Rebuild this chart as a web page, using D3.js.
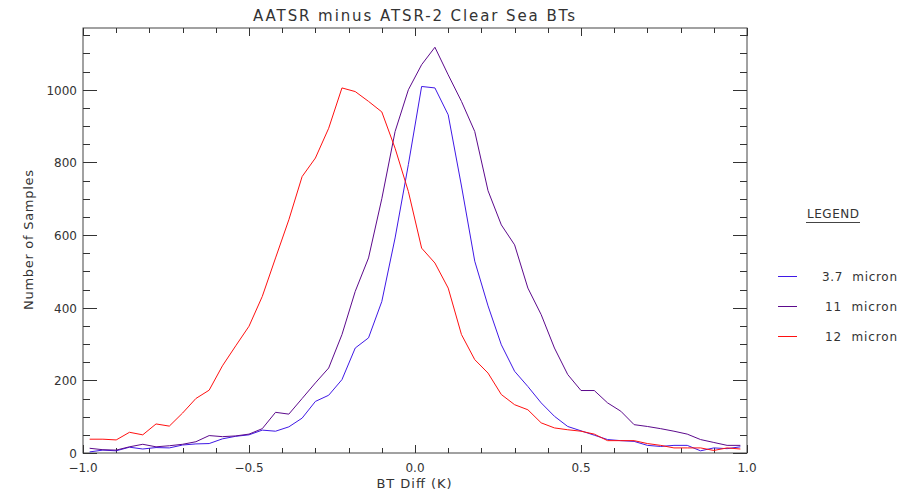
<!DOCTYPE html>
<html>
<head>
<meta charset="utf-8">
<script src="https://cdn.jsdelivr.net/npm/d3@7"></script>
<style>
  body { margin: 0; background: #fff; }
  text { font-family: "DejaVu Sans", sans-serif; fill: #333; white-space: pre; }
</style>
</head>
<body>
<div class="chart"></div>
<script>
// Bin centres (K)
let binCentres = [-0.98, -0.94, -0.90, -0.86, -0.82, -0.78, -0.74, -0.70, -0.66, -0.62,
    -0.58, -0.54, -0.50, -0.46, -0.42, -0.38, -0.34, -0.30, -0.26, -0.22,
    -0.18, -0.14, -0.10, -0.06, -0.02, 0.02, 0.06, 0.10, 0.14, 0.18,
    0.22, 0.26, 0.30, 0.34, 0.38, 0.42, 0.46, 0.50, 0.54, 0.58,
    0.62, 0.66, 0.70, 0.74, 0.78, 0.82, 0.86, 0.90, 0.94, 0.98];

// Sample counts per channel
let micron37 = [3, 8, 6, 16, 11, 15, 14, 22, 25, 26,
    39, 46, 50, 63, 60, 72, 96, 142, 159, 202,
    289, 317, 417, 592, 794, 1009, 1005, 931, 735, 528,
    405, 298, 225, 183, 138, 101, 73, 61, 49, 37,
    34, 32, 21, 18, 21, 21, 6, 14, 12, 17];
let micron11 = [13, 9, 8, 17, 24, 17, 20, 24, 31, 48,
    45, 47, 52, 67, 112, 107, 150, 193, 234, 326,
    445, 537, 700, 885, 1000, 1069, 1117, 1041, 968, 885,
    722, 628, 573, 454, 381, 289, 216, 172, 172, 138,
    115, 78, 73, 67, 60, 52, 37, 29, 21, 21];
let micron12 = [38, 38, 36, 57, 50, 80, 74, 110, 150, 173,
    240, 295, 349, 431, 537, 642, 761, 812, 894, 1005,
    995, 968, 939, 839, 720, 564, 523, 454, 326, 257,
    220, 161, 133, 119, 83, 69, 64, 60, 52, 34,
    34, 34, 26, 21, 14, 14, 14, 7, 14, 11];

let xTickLabels = ['-1.0', '-0.5', '0.0', '0.5', '1.0'];
let yTickValues = [0, 200, 400, 600, 800, 1000];
let seriesNames = ['3.7  micron', '11  micron', '12  micron'];
let seriesColors = ['#3f18e6', '#5c0a8c', '#ff1010'];
let seriesData = [micron37, micron11, micron12];

let svg = d3.select('.chart')
    .append('svg')
    .attr('width', 912)
    .attr('height', 498);

let xScale = d3.scaleLinear().domain([-1, 1]).range([83, 747]);
let yScale = d3.scaleLinear().domain([0, 1170]).range([453, 28]);

// Title and axis labels
svg.append('text')
    .attr('x', 414).attr('y', 21)
    .style('text-anchor', 'middle')
    .style('font-size', '15px')
    .attr('textLength', 322).attr('lengthAdjust', 'spacing')
    .text('AATSR minus ATSR-2 Clear Sea BTs');

svg.append('text')
    .attr('x', 414).attr('y', 488)
    .style('text-anchor', 'middle')
    .style('font-size', '13px')
    .attr('textLength', 75).attr('lengthAdjust', 'spacing')
    .text('BT Diff (K)');

svg.append('text')
    .attr('transform', 'translate(33, 240) rotate(-90)')
    .style('text-anchor', 'middle')
    .style('font-size', '13px')
    .attr('textLength', 140).attr('lengthAdjust', 'spacing')
    .text('Number of Samples');

// Frame
svg.append('rect')
    .attr('x', 83).attr('y', 28)
    .attr('width', 664).attr('height', 425)
    .attr('fill', 'none')
    .attr('stroke', '#444')
    .attr('stroke-width', 1);

// Ticks point inward on all four sides
let xMajor = [-1, -0.5, 0, 0.5, 1];
let xMinor = d3.range(-1, 1.0001, 0.1).filter(v => Math.abs(v * 2 - Math.round(v * 2)) > 0.01);
let yMinor = d3.range(0, 1170, 50).filter(v => v % 200 !== 0);

let ticks = svg.append('g').attr('stroke', '#333').attr('stroke-width', 1);
xMajor.forEach(v => {
    let x = Math.round(xScale(v)) + 0.5;
    ticks.append('line').attr('x1', x).attr('x2', x).attr('y1', 453).attr('y2', 445);
    ticks.append('line').attr('x1', x).attr('x2', x).attr('y1', 28).attr('y2', 36);
});
xMinor.forEach(v => {
    let x = Math.round(xScale(v)) + 0.5;
    ticks.append('line').attr('x1', x).attr('x2', x).attr('y1', 453).attr('y2', 448);
    ticks.append('line').attr('x1', x).attr('x2', x).attr('y1', 28).attr('y2', 33);
});
yTickValues.forEach(v => {
    let y = Math.round(yScale(v)) + 0.5;
    ticks.append('line').attr('x1', 83).attr('x2', 97).attr('y1', y).attr('y2', y);
    ticks.append('line').attr('x1', 747).attr('x2', 733).attr('y1', y).attr('y2', y);
});
yMinor.forEach(v => {
    let y = Math.round(yScale(v)) + 0.5;
    ticks.append('line').attr('x1', 83).attr('x2', 90).attr('y1', y).attr('y2', y);
    ticks.append('line').attr('x1', 747).attr('x2', 740).attr('y1', y).attr('y2', y);
});

// Tick labels
svg.selectAll('.xlab')
    .data(xTickLabels)
    .enter().append('text')
    .attr('x', (d, i) => xScale(xMajor[i]))
    .attr('y', 472)
    .style('text-anchor', 'middle')
    .style('font-size', '12px')
    .text(d => d.replace('-', '\u2212'));

svg.selectAll('.ylab')
    .data(yTickValues)
    .enter().append('text')
    .attr('x', 77)
    .attr('y', d => yScale(d) + 5)
    .style('text-anchor', 'end')
    .style('font-size', '12px')
    .text(d => d);

// The three histogram lines
let line = d3.line()
    .x((d, i) => xScale(binCentres[i]))
    .y(d => yScale(d));

seriesData.forEach((s, k) => {
    svg.append('path')
        .datum(s)
        .attr('d', line)
        .attr('fill', 'none')
        .attr('stroke', seriesColors[k])
        .attr('stroke-width', 1);
});

// Legend
svg.append('text')
    .attr('x', 833).attr('y', 218)
    .style('text-anchor', 'middle')
    .style('font-size', '12px')
    .attr('textLength', 52).attr('lengthAdjust', 'spacing')
    .text('LEGEND');
svg.append('line')
    .attr('x1', 806).attr('x2', 860).attr('y1', 222.5).attr('y2', 222.5)
    .attr('stroke', '#444');

let legendStart = [822, 825, 825];
seriesNames.forEach((name, k) => {
    let y = 276 + k * 30;
    svg.append('line')
        .attr('x1', 778).attr('x2', 797)
        .attr('y1', y + 0.5).attr('y2', y + 0.5)
        .attr('stroke', seriesColors[k]);
    svg.append('text')
        .attr('x', legendStart[k]).attr('y', y + 5)
        .style('font-size', '12px')
        .attr('textLength', 897 - legendStart[k]).attr('lengthAdjust', 'spacing')
        .text(name);
});
</script>
</body>
</html>
